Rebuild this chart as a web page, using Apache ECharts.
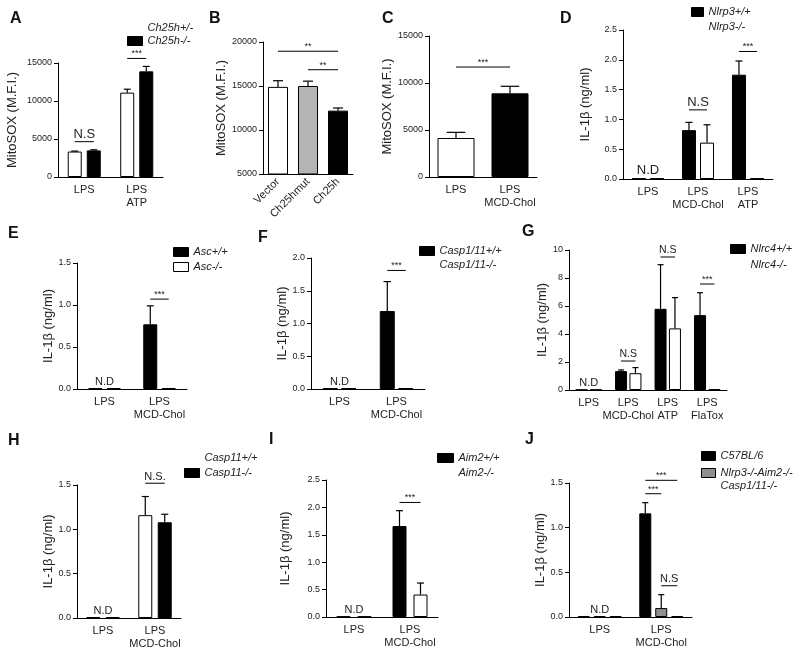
<!DOCTYPE html>
<html><head><meta charset="utf-8">
<script src="https://cdn.jsdelivr.net/npm/echarts@6/dist/echarts.min.js"></script>
<style>html,body{margin:0;padding:0;background:#fff}#c{width:800px;height:654px}</style>
</head><body><div id="c"></div>
<script>
// ===== DATA =====
// Panel A
const catsA = ['LPS', 'LPS\nATP'];
const ticksA = [0, 5000, 10000, 15000];
const yNameA = 'MitoSOX (M.F.I.)';
const namesA = ['Ch25h+/-', 'Ch25h-/-'];
const hetA = [3350, 11100];
const hetErrA = [60, 450];
const koA = [3500, 13900];
const koErrA = [80, 650];
const sigA = [[0, 0, 0, 1, 4650, 'N.S'], [1, 0, 1, 1, 15600, '***']];
const ndA = [];
// Panel B
const catsB = ['Vector', 'Ch25hmut', 'Ch25h'];
const ticksB = [5000, 10000, 15000, 20000];
const yNameB = 'MitoSOX (M.F.I.)';
const namesB = ['MitoSOX B'];
const valB = [14900, 15000, 12200];
const errB = [700, 550, 300];
const sigB = [[0, 0, 2, 0, 18950, '**'], [1, 0, 2, 0, 16850, '**']];
const ndB = [];
// Panel C
const catsC = ['LPS', 'LPS\nMCD-Chol'];
const ticksC = [0, 5000, 10000, 15000];
const yNameC = 'MitoSOX (M.F.I.)';
const namesC = ['MitoSOX C'];
const valC = [4150, 8900];
const errC = [600, 750];
const sigC = [[0, 0, 1, 0, 11700, '***']];
const ndC = [];
// Panel D
const catsD = ['LPS', 'LPS\nMCD-Chol', 'LPS\nATP'];
const ticksD = [0, 0.5, 1.0, 1.5, 2.0, 2.5];
const yNameD = 'IL-1β (ng/ml)';
const namesD = ['Nlrp3+/+', 'Nlrp3-/-'];
const wtD = [0.01, 0.82, 1.75];
const wtErrD = [0, 0.13, 0.23];
const koD = [0.01, 0.61, 0.01];
const koErrD = [0, 0.30, 0];
const sigD = [[1, 0, 1, 1, 1.16, 'N.S'], [2, 0, 2, 1, 2.14, '***']];
const ndD = [0];
// Panel E
const catsE = ['LPS', 'LPS\nMCD-Chol'];
const ticksE = [0, 0.5, 1.0, 1.5];
const yNameE = 'IL-1β (ng/ml)';
const namesE = ['Asc+/+', 'Asc-/-'];
const wtE = [0.01, 0.77];
const wtErrE = [0, 0.22];
const koE = [0.01, 0.01];
const koErrE = [0, 0];
const sigE = [[1, 0, 1, 1, 1.07, '***']];
const ndE = [0];
// Panel F
const catsF = ['LPS', 'LPS\nMCD-Chol'];
const ticksF = [0, 0.5, 1.0, 1.5, 2.0];
const yNameF = 'IL-1β (ng/ml)';
const namesF = ['Casp1/11+/+', 'Casp1/11-/-'];
const wtF = [0.01, 1.19];
const wtErrF = [0, 0.45];
const koF = [0.01, 0.01];
const koErrF = [0, 0];
const sigF = [[1, 0, 1, 1, 1.81, '***']];
const ndF = [0];
// Panel G
const catsG = ['LPS', 'LPS\nMCD-Chol', 'LPS\nATP', 'LPS\nFlaTox'];
const ticksG = [0, 2, 4, 6, 8, 10];
const yNameG = 'IL-1β (ng/ml)';
const namesG = ['Nlrc4+/+', 'Nlrc4-/-'];
const wtG = [0.02, 1.35, 5.8, 5.35];
const wtErrG = [0, 0.08, 3.15, 1.6];
const koG = [0.02, 1.2, 4.4, 0.05];
const koErrG = [0, 0.4, 2.2, 0];
const sigG = [[1, 0, 1, 1, 2.07, 'N.S'], [2, 0, 2, 1, 9.5, 'N.S'], [3, 0, 3, 1, 7.57, '***']];
const ndG = [0];
// Panel H
const catsH = ['LPS', 'LPS\nMCD-Chol'];
const ticksH = [0, 0.5, 1.0, 1.5];
const yNameH = 'IL-1β (ng/ml)';
const namesH = ['Casp11+/+', 'Casp11-/-'];
const wtH = [0.01, 1.16];
const wtErrH = [0, 0.21];
const koH = [0.01, 1.08];
const koErrH = [0, 0.09];
const sigH = [[1, 0, 1, 1, 1.52, 'N.S.']];
const ndH = [0];
// Panel I
const catsI = ['LPS', 'LPS\nMCD-Chol'];
const ticksI = [0, 0.5, 1.0, 1.5, 2.0, 2.5];
const yNameI = 'IL-1β (ng/ml)';
const namesI = ['Aim2+/+', 'Aim2-/-'];
const wtI = [0.01, 1.66];
const wtErrI = [0, 0.28];
const koI = [0.01, 0.41];
const koErrI = [0, 0.21];
const sigI = [[1, 0, 1, 1, 2.09, '***']];
const ndI = [0];
// Panel J
const catsJ = ['LPS', 'LPS\nMCD-Chol'];
const ticksJ = [0, 0.5, 1.0, 1.5];
const yNameJ = 'IL-1β (ng/ml)';
const namesJ = ['C57BL/6', 'Nlrp3-/-Aim2-/-\nCasp1/11-/-', 'J third group'];
const wtJ = [0.01, 1.16];
const wtErrJ = [0, 0.12];
const tkoJ = [0.01, 0.10];
const tkoErrJ = [0, 0.15];
const thirdJ = [0.01, 0.01];
const thirdErrJ = [0, 0];
const sigJ = [[1, 0, 1, 2, 1.53, '***'], [1, 0, 1, 1, 1.38, '***'], [1, 1, 1, 2, 0.35, 'N.S']];
const ndJ = [0];

// ===== BUILD =====
const FONT = '"Liberation Sans", Arial, Helvetica, sans-serif';
const option = {animation: false, backgroundColor: '#fff', title: [], legend: [], grid: [], xAxis: [], yAxis: [], series: []};

function panel(L, D) {
  const gi = option.grid.length;
  const t = D.ticks;
  option.grid.push({left: L.left, top: L.top, width: L.width, height: L.height});
  option.xAxis.push({
    type: 'category', gridIndex: gi, data: D.cats,
    axisLine: {lineStyle: {color: '#000', width: 1}},
    axisTick: {alignWithLabel: true, length: 4, lineStyle: {color: '#000'}},
    axisLabel: {interval: 0, fontFamily: FONT, fontSize: 11, color: '#222', margin: L.xMargin || 6, lineHeight: 13, rotate: L.rotate || 0},
    splitLine: {show: false}
  });
  option.yAxis.push({
    type: 'value', gridIndex: gi, min: t[0], max: t[t.length - 1], interval: t[1] - t[0],
    name: D.yName, nameLocation: 'middle', nameRotate: 90, nameGap: L.nameGap,
    nameTextStyle: {fontFamily: FONT, fontSize: 13, color: '#222'},
    axisLine: {show: true, lineStyle: {color: '#000', width: 1}},
    axisTick: {show: true, length: 4, lineStyle: {color: '#000'}},
    axisLabel: {fontFamily: FONT, fontSize: 9, color: '#222', margin: 6, formatter: v => v.toFixed(L.dec)},
    splitLine: {show: false}
  });
  const n = D.series.length;
  const step = L.barW * (1 + L.gap);
  const off = k => (k - (n - 1) / 2) * step;
  D.series.forEach((s, k) => {
    option.series.push({
      type: 'bar', name: s.name, xAxisIndex: gi, yAxisIndex: gi, data: s.values,
      barWidth: L.barW, barGap: (L.gap * 100) + '%', silent: true, z: 2,
      itemStyle: {color: L.barColors ? (p => L.barColors[p.dataIndex]) : L.colors[k], borderColor: '#000', borderWidth: 1}
    });
  });
  const errData = [];
  D.series.forEach((s, k) => s.values.forEach((v, c) => errData.push([c, v, s.errs[c], k])));
  option.series.push({
    type: 'custom', xAxisIndex: gi, yAxisIndex: gi, data: errData, encode: {x: 0, y: 1}, clip: false, silent: true, z: 3,
    renderItem: (params, api) => {
      const c = api.value(0), v = api.value(1), e = api.value(2), k = api.value(3);
      if (!(e > 0)) return null;
      const p0 = api.coord([c, v]), p1 = api.coord([c, v + e]);
      const x = p0[0] + off(k), hw = L.barW / 4;
      return {type: 'group', children: [
        {type: 'line', shape: {x1: x, y1: p0[1], x2: x, y2: p1[1]}, style: {stroke: '#000', lineWidth: 1.2}},
        {type: 'line', shape: {x1: x - hw, y1: p1[1], x2: x + hw, y2: p1[1]}, style: {stroke: '#000', lineWidth: 1.2}}
      ]};
    }
  });
  if (D.sig.length) {
    option.series.push({
      type: 'custom', xAxisIndex: gi, yAxisIndex: gi, data: D.sig.map(s => [s[0], s[4]]), encode: {x: 0, y: 1}, clip: false, silent: true, z: 4,
      renderItem: (params, api) => {
        const s = D.sig[params.dataIndex];
        const pa = api.coord([s[0], s[4]]), pb = api.coord([s[2], s[4]]);
        const xa = pa[0] + off(s[1]), xb = pb[0] + off(s[3]), y = pa[1];
        const star = s[5].indexOf('*') >= 0;
        return {type: 'group', children: [
          {type: 'line', shape: {x1: xa, y1: y, x2: xb, y2: y}, style: {stroke: '#000', lineWidth: 1}},
          {type: 'text', x: (xa + xb) / 2, y: y - (star ? 0 : 1), style: {text: s[5], align: 'center', verticalAlign: 'bottom', fontFamily: FONT, fontSize: star ? 9 : L.annFont, fill: '#222'}}
        ]};
      }
    });
  }
  if (D.nd.length) {
    option.series.push({
      type: 'custom', xAxisIndex: gi, yAxisIndex: gi, data: D.nd.map(c => [c, 0]), encode: {x: 0, y: 1}, clip: false, silent: true, z: 4,
      renderItem: (params, api) => {
        const p = api.coord([api.value(0), 0]);
        return {type: 'text', x: p[0], y: p[1] - 2, style: {text: 'N.D', align: 'center', verticalAlign: 'bottom', fontFamily: FONT, fontSize: L.ndFont || 11, fill: '#222'}};
      }
    });
  }
  if (L.lg) {
    const items = L.lg.items.map(k => {
      const nm = D.series[k].name;
      if (L.lg.hide.indexOf(k) >= 0) return {name: nm, itemStyle: {color: 'rgba(0,0,0,0)', borderColor: 'rgba(0,0,0,0)', borderWidth: 0}};
      return {name: nm, itemStyle: {color: L.colors[k], borderColor: '#000', borderWidth: 1}};
    });
    option.legend.push({
      orient: 'vertical', left: L.lg.left, top: L.lg.top, padding: 0, icon: 'rect',
      itemWidth: L.lg.w, itemHeight: 9, itemGap: L.lg.gap, itemTextGap: L.lg.tg, selectedMode: false,
      textStyle: {fontFamily: FONT, fontSize: 11, fontStyle: 'italic', color: '#222', lineHeight: 13},
      formatter: nm => nm.indexOf('\n') >= 0 ? '\n' + nm : nm,
      data: items
    });
  }
  option.title.push({text: L.letter, left: L.lx, top: L.ly, padding: 0,
    textStyle: {fontFamily: FONT, fontSize: 16, fontWeight: 'bold', color: '#111'}});
}

const WB = ['#ffffff', '#000000'];
const BW = ['#000000', '#ffffff'];

panel({letter: 'A', lx: 10, ly: 11, left: 58, top: 63, width: 105, height: 114, barW: 14, gap: 0.36, nameGap: 39, dec: 0, annFont: 13, colors: WB,
  lg: {left: 127, top: 21.5, w: 15, gap: 0, tg: 3, items: [0, 1], hide: [0]}},
  {cats: catsA, ticks: ticksA, yName: yNameA, sig: sigA, nd: ndA,
   series: [{name: namesA[0], values: hetA, errs: hetErrA}, {name: namesA[1], values: koA, errs: koErrA}]});

panel({letter: 'B', lx: 209, ly: 11, left: 263, top: 42, width: 90, height: 132, barW: 20, gap: 0.3, nameGap: 33, dec: 0, annFont: 11, rotate: 45,
  colors: ['#ffffff'], barColors: ['#ffffff', '#b4b4b4', '#000000']},
  {cats: catsB, ticks: ticksB, yName: yNameB, sig: sigB, nd: ndB,
   series: [{name: namesB[0], values: valB, errs: errB}]});

panel({letter: 'C', lx: 382, ly: 11, left: 429, top: 36, width: 108, height: 141, barW: 37, gap: 0.3, nameGap: 27, dec: 0, annFont: 11,
  colors: ['#ffffff'], barColors: ['#ffffff', '#000000']},
  {cats: catsC, ticks: ticksC, yName: yNameC, sig: sigC, nd: ndC,
   series: [{name: namesC[0], values: valC, errs: errC}]});

panel({letter: 'D', lx: 560, ly: 11, left: 623, top: 30, width: 150, height: 149, barW: 14, gap: 0.29, nameGap: 31, dec: 1, annFont: 13, ndFont: 13, colors: BW,
  lg: {left: 691, top: 5.5, w: 12, gap: 2, tg: 2, items: [0, 1], hide: [1]}},
  {cats: catsD, ticks: ticksD, yName: yNameD, sig: sigD, nd: ndD,
   series: [{name: namesD[0], values: wtD, errs: wtErrD}, {name: namesD[1], values: koD, errs: koErrD}]});

panel({letter: 'E', lx: 8, ly: 226, left: 77, top: 263, width: 110, height: 126, barW: 14, gap: 0.32, nameGap: 22, dec: 1, annFont: 11, colors: BW,
  lg: {left: 173, top: 245.5, w: 15, gap: 2, tg: 2, items: [0, 1], hide: []}},
  {cats: catsE, ticks: ticksE, yName: yNameE, sig: sigE, nd: ndE,
   series: [{name: namesE[0], values: wtE, errs: wtErrE}, {name: namesE[1], values: koE, errs: koErrE}]});

panel({letter: 'F', lx: 258, ly: 230, left: 311, top: 258, width: 114, height: 131, barW: 15, gap: 0.23, nameGap: 21, dec: 1, annFont: 11, colors: BW,
  lg: {left: 419, top: 244.5, w: 15, gap: 1, tg: 3, items: [0, 1], hide: [1]}},
  {cats: catsF, ticks: ticksF, yName: yNameF, sig: sigF, nd: ndF,
   series: [{name: namesF[0], values: wtF, errs: wtErrF}, {name: namesF[1], values: koF, errs: koErrF}]});

panel({letter: 'G', lx: 522, ly: 224, left: 569, top: 250, width: 158, height: 140, barW: 12, gap: 0.2, nameGap: 18, dec: 0, annFont: 10.5, colors: BW,
  lg: {left: 730, top: 242.5, w: 15, gap: 3, tg: 3, items: [0, 1], hide: [1]}},
  {cats: catsG, ticks: ticksG, yName: yNameG, sig: sigG, nd: ndG,
   series: [{name: namesG[0], values: wtG, errs: wtErrG}, {name: namesG[1], values: koG, errs: koErrG}]});

panel({letter: 'H', lx: 8, ly: 433, left: 77, top: 485, width: 104, height: 133, barW: 14, gap: 0.39, nameGap: 15, dec: 1, annFont: 11, colors: WB,
  lg: {left: 184, top: 451.5, w: 15, gap: 2, tg: 3, items: [0, 1], hide: [0]}},
  {cats: catsH, ticks: ticksH, yName: yNameH, sig: sigH, nd: ndH,
   series: [{name: namesH[0], values: wtH, errs: wtErrH}, {name: namesH[1], values: koH, errs: koErrH}]});

panel({letter: 'I', lx: 269, ly: 432, left: 326, top: 480, width: 112, height: 137, barW: 14, gap: 0.5, nameGap: 34, dec: 1, annFont: 11, colors: BW,
  lg: {left: 437, top: 451.5, w: 16, gap: 2, tg: 2, items: [0, 1], hide: [1]}},
  {cats: catsI, ticks: ticksI, yName: yNameI, sig: sigI, nd: ndI,
   series: [{name: namesI[0], values: wtI, errs: wtErrI}, {name: namesI[1], values: koI, errs: koErrI}]});

panel({letter: 'J', lx: 525, ly: 432, left: 569, top: 483, width: 123, height: 134, barW: 12, gap: 0.33, nameGap: 19, dec: 1, annFont: 11, colors: ['#000000', '#8f8f8f', '#ffffff'],
  lg: {left: 701, top: 449.5, w: 14, gap: -9, tg: 3, items: [0, 1], hide: []}},
  {cats: catsJ, ticks: ticksJ, yName: yNameJ, sig: sigJ, nd: ndJ,
   series: [{name: namesJ[0], values: wtJ, errs: wtErrJ}, {name: namesJ[1], values: tkoJ, errs: tkoErrJ}, {name: namesJ[2], values: thirdJ, errs: thirdErrJ}]});

const chart = echarts.init(document.getElementById('c'), null, {renderer: 'canvas'});
chart.setOption(option);
</script>
</body></html>
